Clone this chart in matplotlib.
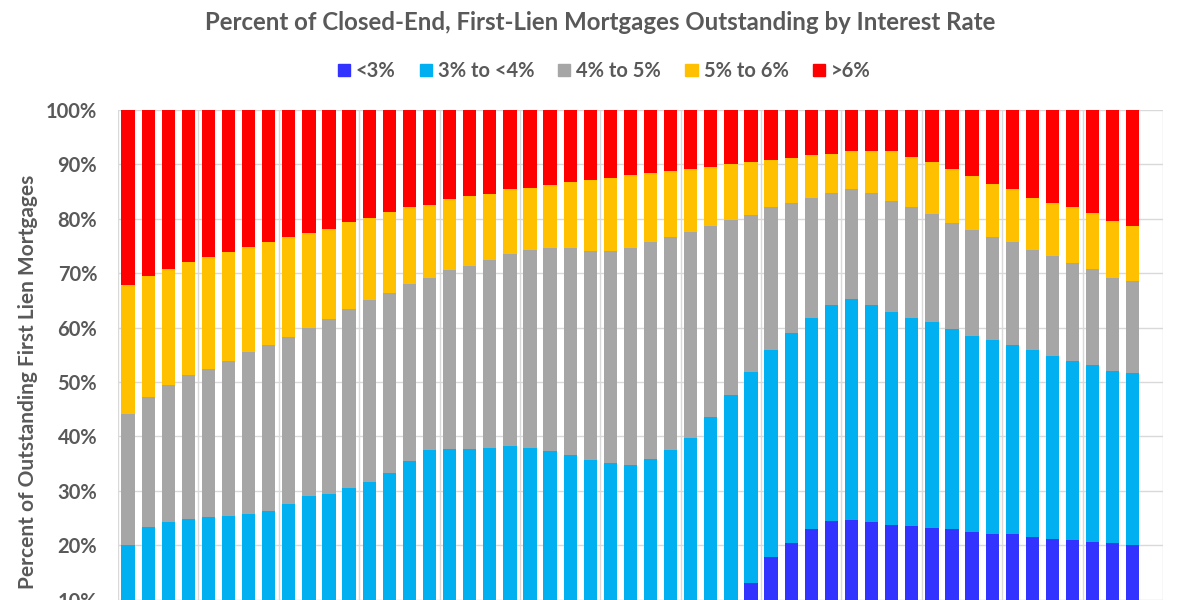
import numpy as np
import matplotlib.pyplot as plt
from matplotlib.patches import Patch
from matplotlib.ticker import FuncFormatter

# share of outstanding mortgages (percent) by rate band, one value per quarter
below_3 = [0.0] * 31 + [13.1, 17.9, 20.4, 22.9, 24.5, 24.7, 24.3, 23.8, 23.5, 23.2,
                        22.9, 22.4, 22.1, 22.0, 21.5, 21.2, 21.0, 20.6, 20.4, 20.1]
from_3_to_4 = [20.0, 23.4, 24.2, 24.9, 25.1, 25.4, 25.7, 26.3, 27.5, 29.0, 29.4, 30.5, 31.6,
               33.2, 35.5, 37.5, 37.7, 37.6, 37.9, 38.2, 37.9, 37.3, 36.6, 35.7, 35.1, 34.7,
               35.8, 37.5, 39.7, 43.5, 47.6, 38.7, 37.9, 38.6, 38.9, 39.6, 40.5, 39.8, 39.0,
               38.3, 37.8, 36.9, 36.1, 35.7, 34.8, 34.3, 33.5, 32.9, 32.5, 31.7, 31.5]
from_4_to_5 = [24.2, 23.9, 25.3, 26.3, 27.3, 28.5, 29.8, 30.5, 30.8, 31.0, 32.1, 32.9, 33.4,
               33.2, 32.5, 31.7, 32.8, 33.8, 34.6, 35.4, 36.4, 37.3, 38.0, 38.3, 39.0, 40.0,
               39.9, 39.1, 37.8, 35.1, 32.1, 28.9, 26.3, 23.9, 22.1, 20.7, 20.2, 20.7, 20.4,
               20.3, 19.8, 19.5, 19.4, 18.8, 18.9, 18.5, 18.4, 18.0, 17.7, 17.1, 16.9]
from_5_to_6 = [23.6, 22.1, 21.3, 20.8, 20.5, 20.0, 19.4, 18.9, 18.3, 17.3, 16.7, 16.0, 15.2,
               14.9, 14.1, 13.4, 13.1, 12.8, 12.1, 11.8, 11.4, 11.6, 12.1, 13.2, 13.4, 13.3,
               12.7, 12.1, 11.7, 10.9, 10.3, 9.7, 8.7, 8.3, 7.9, 7.2, 7.0, 7.7, 9.2,
               9.2, 9.6, 9.9, 9.9, 9.8, 9.8, 9.6, 9.8, 10.2, 10.2, 10.4, 10.2]
above_6 = [32.2, 30.6, 29.2, 28.0, 27.1, 26.1, 25.1, 24.3, 23.4, 22.7, 21.8, 20.6, 19.8,
           18.7, 17.9, 17.4, 16.4, 15.8, 15.4, 14.6, 14.3, 13.8, 13.3, 12.8, 12.5, 12.0,
           11.6, 11.3, 10.8, 10.5, 10.0, 9.6, 9.2, 8.8, 8.2, 8.0, 7.6, 7.5, 7.6,
           8.7, 9.6, 10.8, 12.2, 13.6, 14.5, 16.1, 17.1, 17.9, 19.0, 20.4, 21.3]

labels = ["<3%", "3% to <4%", "4% to 5%", "5% to 6%", ">6%"]
colors = ["#3333FF", "#00B0F0", "#A6A6A6", "#FFC000", "#FF0000"]
n_slots = 52  # one empty quarter slot at the right end

plt.rcParams['font.family'] = ['Lato', 'DejaVu Sans']
text_color = "#595959"

fig = plt.figure(figsize=(12, 6), dpi=100)
# axes runs below the figure edge: the reference is cropped just under 10%
ax = fig.add_axes([118 / 1200, -0.09, 1045 / 1200, 0.9067])

x = np.arange(len(above_6))
bottom = np.zeros(len(x))
for vals, lab, col in zip([below_3, from_3_to_4, from_4_to_5, from_5_to_6, above_6], labels, colors):
    ax.bar(x, vals, width=0.66, bottom=bottom, color=col, label=lab, zorder=2)
    bottom += np.array(vals)

ax.set_xlim(-0.5, n_slots - 0.5)
ax.set_ylim(0, 100)
ax.set_xticks(np.arange(-0.5, n_slots, 4))
ax.set_xticklabels([])
ax.set_yticks(np.arange(0, 101, 10))
ax.yaxis.set_major_formatter(FuncFormatter(lambda v, p: f"{v:.0f}%"))
ax.grid(True, color="#D9D9D9", linewidth=1.0, zorder=0)
ax.set_axisbelow(True)
for s in ax.spines.values():
    s.set_visible(False)
ax.tick_params(length=0, pad=15)
for t in ax.get_yticklabels():
    t.set_fontsize(14.5)
    t.set_fontweight("bold")
    t.set_color(text_color)

ax.set_ylabel("Percent of Outstanding First Lien Mortgages", fontsize=15,
              fontweight="bold", color=text_color, labelpad=6)

fig.text(0.5, 1 - 22 / 600, "Percent of Closed-End, First-Lien Mortgages Outstanding by Interest Rate",
         ha="center", va="center", fontsize=17.3, fontweight="bold", color=text_color)

handles = [Patch(color=c) for c in colors]
leg = fig.legend(handles, labels, ncol=5, loc="center", bbox_to_anchor=(604 / 1200, 1 - 71 / 600),
                 frameon=False, handlelength=0.6, handleheight=0.6, handletextpad=0.3,
                 columnspacing=1.2, prop={"size": 14.5, "weight": "bold"})
for t in leg.get_texts():
    t.set_color(text_color)

fig.savefig("out.png", dpi=100)
